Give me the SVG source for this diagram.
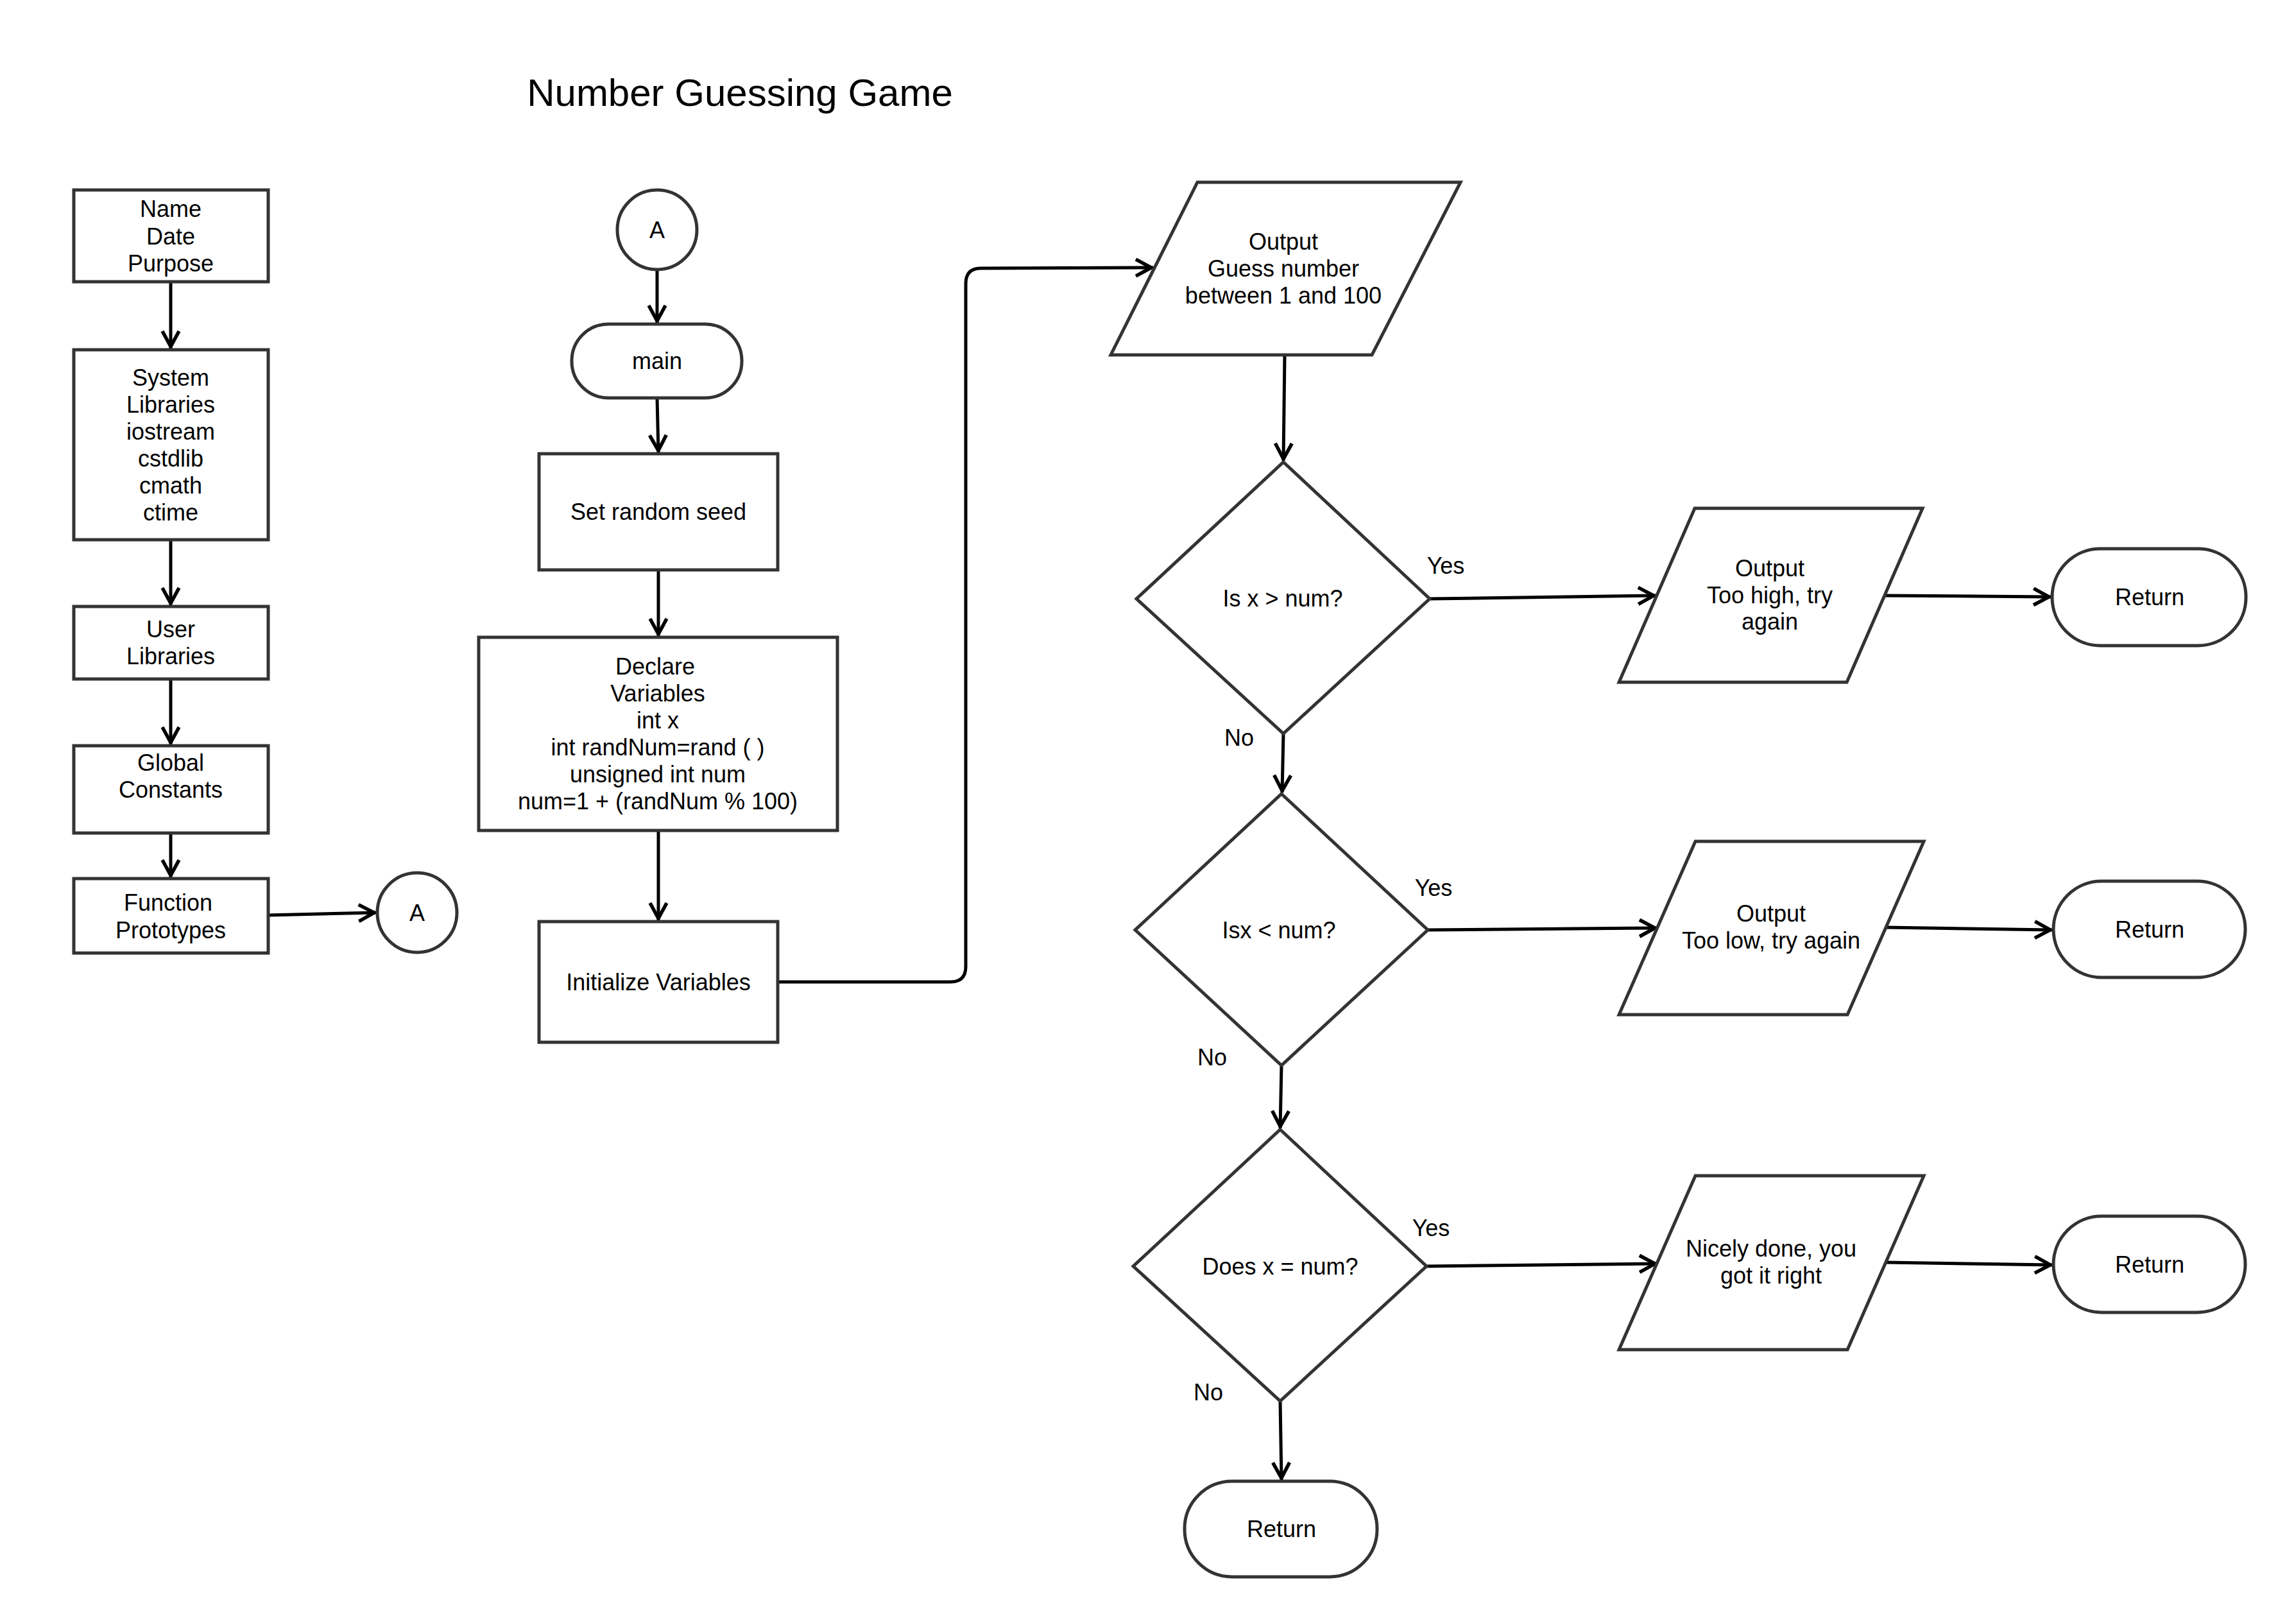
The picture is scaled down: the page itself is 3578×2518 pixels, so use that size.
<svg xmlns="http://www.w3.org/2000/svg" width="3578" height="2518" viewBox="0 0 3578 2518">
<style>
.shape{fill:#fff;stroke:#333;stroke-width:5;stroke-linejoin:miter}
.conn{fill:none;stroke:#000;stroke-width:5}
text{font-family:"Liberation Sans",Arial,sans-serif;font-size:36px;fill:#000;text-anchor:middle}
.title{font-size:60px}
</style>
<defs>
<marker id="arr" markerUnits="userSpaceOnUse" markerWidth="40" markerHeight="40" viewBox="-30 -20 40 40" refX="3" refY="0" orient="auto" overflow="visible">
<path d="M-24,-13 L0,0 L-24,13" fill="none" stroke="#000" stroke-width="5.5"/>
</marker>
</defs>
<rect width="3578" height="2518" fill="#fff"/>
<text class="title" x="1153" y="165">Number Guessing Game</text>

<g id="connectors">
<line class="conn" x1="266" y1="439" x2="266" y2="543" marker-end="url(#arr)"/>
<line class="conn" x1="266" y1="841" x2="266" y2="943" marker-end="url(#arr)"/>
<line class="conn" x1="266" y1="1058" x2="266" y2="1160" marker-end="url(#arr)"/>
<line class="conn" x1="266" y1="1298" x2="266" y2="1367" marker-end="url(#arr)"/>
<line class="conn" x1="418" y1="1426" x2="586" y2="1422" marker-end="url(#arr)"/>
<line class="conn" x1="1024" y1="420" x2="1024" y2="503" marker-end="url(#arr)"/>
<line class="conn" x1="1024" y1="620" x2="1026" y2="705" marker-end="url(#arr)"/>
<line class="conn" x1="1026" y1="888" x2="1026" y2="991" marker-end="url(#arr)"/>
<line class="conn" x1="1026" y1="1294" x2="1026" y2="1434" marker-end="url(#arr)"/>
<path class="conn" d="M1212,1530 H1481 Q1505,1530 1505,1506 V442 Q1505,418 1529,418 L1797,417" marker-end="url(#arr)"/>
<line class="conn" x1="2002" y1="553" x2="2000" y2="718" marker-end="url(#arr)"/>
<line class="conn" x1="2228" y1="933" x2="2580" y2="928" marker-end="url(#arr)"/>
<line class="conn" x1="2937" y1="928" x2="3196" y2="930" marker-end="url(#arr)"/>
<line class="conn" x1="2000" y1="1143" x2="1998" y2="1235" marker-end="url(#arr)"/>
<line class="conn" x1="2225" y1="1449" x2="2582" y2="1446" marker-end="url(#arr)"/>
<line class="conn" x1="2939" y1="1445" x2="3198" y2="1449" marker-end="url(#arr)"/>
<line class="conn" x1="1997" y1="1660" x2="1995" y2="1758" marker-end="url(#arr)"/>
<line class="conn" x1="2223" y1="1973" x2="2582" y2="1969" marker-end="url(#arr)"/>
<line class="conn" x1="2939" y1="1967" x2="3198" y2="1971" marker-end="url(#arr)"/>
<line class="conn" x1="1995" y1="2183" x2="1997" y2="2306" marker-end="url(#arr)"/>
<text x="2253" y="894">Yes</text>
<text x="1931" y="1162">No</text>
<text x="2234" y="1396">Yes</text>
<text x="1889" y="1660">No</text>
<text x="2230" y="1926">Yes</text>
<text x="1883" y="2182">No</text>
</g>

<g id="name-box">
<rect class="shape" x="115" y="296" width="303" height="143"/>
<text x="266" y="338">Name</text>
<text x="266" y="381">Date</text>
<text x="266" y="423">Purpose</text>
</g>
<g id="system-libraries">
<rect class="shape" x="115" y="545" width="303" height="296"/>
<text x="266" y="601">System</text>
<text x="266" y="643">Libraries</text>
<text x="266" y="685">iostream</text>
<text x="266" y="727">cstdlib</text>
<text x="266" y="769">cmath</text>
<text x="266" y="811">ctime</text>
</g>
<g id="user-libraries">
<rect class="shape" x="115" y="945" width="303" height="113"/>
<text x="266" y="993">User</text>
<text x="266" y="1035">Libraries</text>
</g>
<g id="global-constants">
<rect class="shape" x="115" y="1162" width="303" height="136"/>
<text x="266" y="1201">Global</text>
<text x="266" y="1243">Constants</text>
</g>
<g id="function-prototypes">
<rect class="shape" x="115" y="1369" width="303" height="116"/>
<text x="262" y="1419">Function</text>
<text x="266" y="1462">Prototypes</text>
</g>
<g id="connector-a-left">
<circle class="shape" cx="650" cy="1422" r="62"/>
<text x="650" y="1435">A</text>
</g>

<g id="connector-a-top">
<circle class="shape" cx="1024" cy="358" r="62"/>
<text x="1024" y="371">A</text>
</g>
<g id="main">
<rect class="shape" x="891" y="505" width="265" height="115" rx="57" ry="57"/>
<text x="1024" y="575">main</text>
</g>
<g id="set-random-seed">
<rect class="shape" x="840" y="707" width="372" height="181"/>
<text x="1026" y="810">Set random seed</text>
</g>
<g id="declare-variables">
<rect class="shape" x="746" y="993" width="559" height="301"/>
<text x="1021" y="1051">Declare</text>
<text x="1025" y="1093">Variables</text>
<text x="1025" y="1135">int x</text>
<text x="1025" y="1177">int randNum=rand ( )</text>
<text x="1025" y="1219">unsigned int num</text>
<text x="1025" y="1261">num=1 + (randNum % 100)</text>
</g>
<g id="initialize-variables">
<rect class="shape" x="840" y="1436" width="372" height="188"/>
<text x="1026" y="1543">Initialize Variables</text>
</g>

<g id="output-guess">
<polygon class="shape" points="1866,284 2276,284 2138,553 1731,553"/>
<text x="2000" y="389">Output</text>
<text x="2000" y="431">Guess number</text>
<text x="2000" y="473">between 1 and 100</text>
</g>
<g id="decision-greater">
<polygon class="shape" points="2000,720 2228,933 2000,1143 1771,933"/>
<text x="1999" y="945">Is x &gt; num?</text>
</g>
<g id="decision-less">
<polygon class="shape" points="1997,1237 2225,1449 1997,1660 1769,1449"/>
<text x="1993" y="1462">Isx &lt; num?</text>
</g>
<g id="decision-equal">
<polygon class="shape" points="1995,1760 2223,1973 1995,2183 1766,1973"/>
<text x="1995" y="1986">Does x = num?</text>
</g>
<g id="output-too-high">
<polygon class="shape" points="2641,792 2996,792 2878,1063 2523,1063"/>
<text x="2758" y="898">Output</text>
<text x="2758" y="940">Too high, try</text>
<text x="2758" y="981">again</text>
</g>
<g id="output-too-low">
<polygon class="shape" points="2642,1311 2998,1311 2879,1581 2523,1581"/>
<text x="2760" y="1436">Output</text>
<text x="2760" y="1478">Too low, try again</text>
</g>
<g id="output-nicely-done">
<polygon class="shape" points="2642,1832 2998,1832 2879,2103 2523,2103"/>
<text x="2760" y="1958">Nicely done, you</text>
<text x="2760" y="2000">got it right</text>
</g>
<g id="return-1">
<rect class="shape" x="3198" y="855" width="302" height="151" rx="75" ry="75"/>
<text x="3350" y="943">Return</text>
</g>
<g id="return-2">
<rect class="shape" x="3200" y="1373" width="299" height="150" rx="75" ry="75"/>
<text x="3350" y="1461">Return</text>
</g>
<g id="return-3">
<rect class="shape" x="3200" y="1895" width="299" height="150" rx="75" ry="75"/>
<text x="3350" y="1983">Return</text>
</g>
<g id="return-4">
<rect class="shape" x="1846" y="2308" width="300" height="149" rx="74" ry="74"/>
<text x="1997" y="2395">Return</text>
</g>
</svg>
